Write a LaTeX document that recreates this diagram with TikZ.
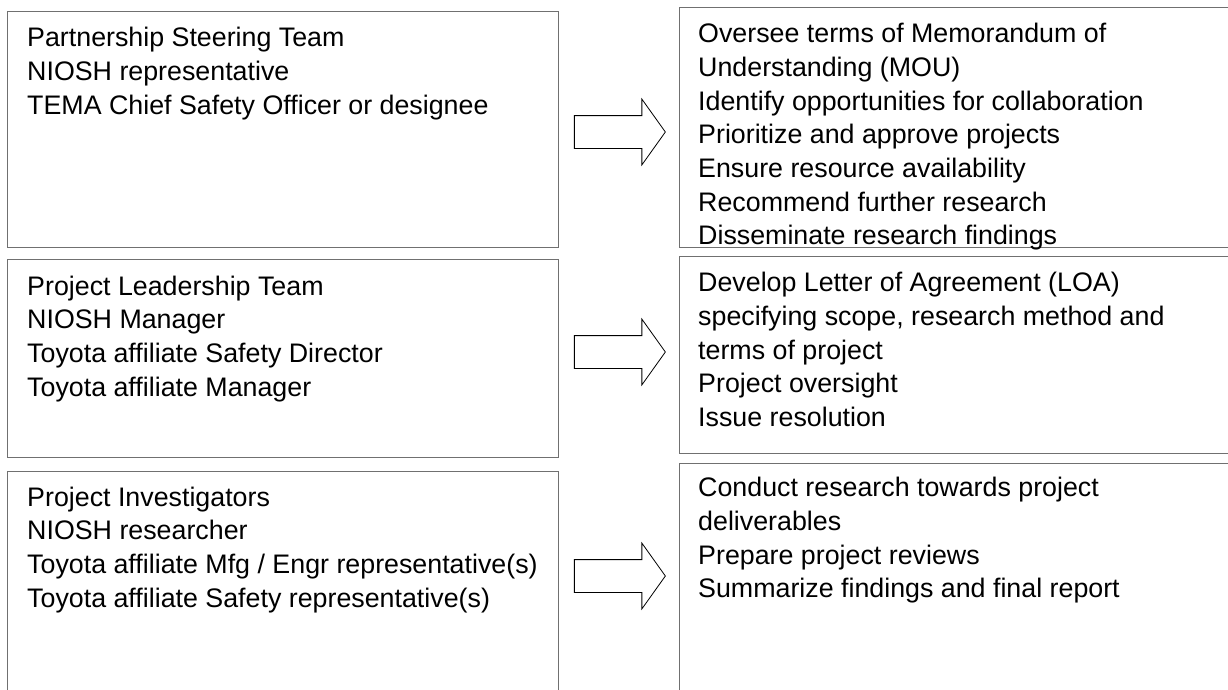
\documentclass[tikz,border=0pt]{standalone}
\usepackage{fontspec}
\setmainfont{Liberation Sans}
\usetikzlibrary{shapes.arrows}
\definecolor{boxgray}{HTML}{707070}
\begin{document}
\begin{tikzpicture}
        [x=1pt, y=-1pt,
         box/.style={rectangle, draw=boxgray, line width=1.3pt, anchor=north west, inner sep=0},
         boxtext/.style={anchor=north west, inner sep=0, align=left, font=\fontsize{26.8}{33.7}\selectfont},
         blockarrow/.style={single arrow, draw, line width=0.8pt, inner sep=0, text height=32pt, text depth=0pt,
                            minimum height=91pt, single arrow head extend=16.5pt, single arrow tip angle=109}]
        \useasboundingbox (0,0) rectangle (1228,689);
        \clip (0,0) rectangle (1228,689);
        % who
        \node (team1) [box, minimum width=551, minimum height=236] at (7,11) {};
        \node (team2) [box, minimum width=551, minimum height=198] at (7,259) {};
        \node (team3) [box, minimum width=551, minimum height=240] at (7,471) {};
        % what they do
        \node (duty1) [box, minimum width=560, minimum height=240] at (679,7) {};
        \node (duty2) [box, minimum width=560, minimum height=197] at (679,256) {};
        \node (duty3) [box, minimum width=560, minimum height=240] at (679,463) {};
        \node (team1txt) [boxtext] at ([shift={(20,16)}]team1.north west)
            {Partnership Steering Team\\NIOSH representative\\TEMA Chief Safety Officer or designee};
        \node (team2txt) [boxtext] at ([shift={(20,16.5)}]team2.north west)
            {Project Leadership Team\\NIOSH Manager\\Toyota affiliate Safety Director\\Toyota affiliate Manager};
        \node (team3txt) [boxtext] at ([shift={(20,15.5)}]team3.north west)
            {Project Investigators\\NIOSH researcher\\Toyota affiliate Mfg / Engr representative(s)\\Toyota affiliate Safety representative(s)};
        \node (duty1txt) [boxtext] at ([shift={(19,16)}]duty1.north west)
            {Oversee terms of Memorandum of\\Understanding (MOU)\\Identify opportunities for collaboration\\Prioritize and approve projects\\Ensure resource availability\\Recommend further research\\Disseminate research findings};
        \node (duty2txt) [boxtext] at ([shift={(19,16)}]duty2.north west)
            {Develop Letter of Agreement (LOA)\\specifying scope, research method and\\terms of project\\Project oversight\\Issue resolution};
        \node (duty3txt) [boxtext] at ([shift={(19,14)}]duty3.north west)
            {Conduct research towards project\\deliverables\\Prepare project reviews\\Summarize findings and final report};
        % arrows between the columns
        \node (arr1) [blockarrow] at (614,132) {};
        \node (arr2) [blockarrow] at (614,352) {};
        \node (arr3) [blockarrow] at (614,576) {};
    \end{tikzpicture}
\end{document}
